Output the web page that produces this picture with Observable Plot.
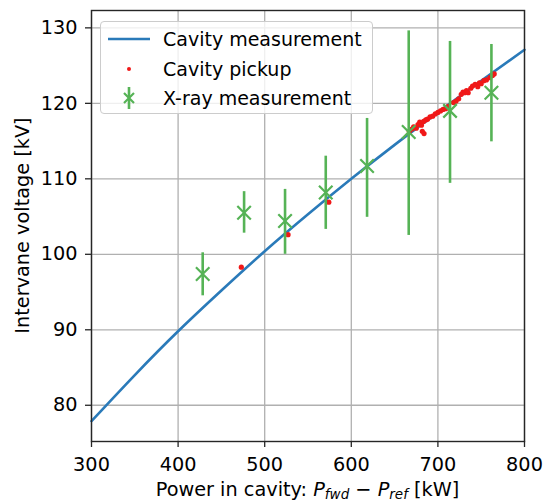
<!DOCTYPE html>
<html>
<head>
<meta charset="utf-8">
<script src="https://cdn.jsdelivr.net/npm/d3@7"></script>
<script src="https://cdn.jsdelivr.net/npm/@observablehq/plot@0.6"></script>
<style>
  html, body { margin: 0; padding: 0; background: #fff; }
  #wrap { position: relative; width: 543px; height: 502px; font-family: "DejaVu Sans", sans-serif; }
  #legend { position: absolute; left: 100px; top: 21px; width: 273px; height: 93px;
    background: rgba(255,255,255,0.8); border: 1px solid #cccccc; border-radius: 4px; box-sizing: border-box; }
  .item { position: absolute; left: 0; height: 20px; display: flex; align-items: center; font-size: 19px; color: #000; white-space: nowrap; }
  .item svg { width: 62px; height: 24px; flex: none; }
</style>
</head>
<body>
<div id="wrap"></div>
<script>
// ---- data ----
const lineP = [300, 350, 400, 450, 500, 550, 600, 650, 700, 750, 800];
const lineV = [77.9, 84.0, 89.8, 95.2, 100.4, 105.3, 110.0, 114.5, 118.8, 123.0, 127.1];

const pickupP = [473, 527, 574, 667, 670, 672, 675, 677, 679, 681, 682, 683.5, 684, 686, 688, 691, 694, 697, 700,
  703, 706, 709, 712, 718, 721, 724, 727, 729, 731, 733, 735, 738, 740, 743, 746, 748, 750, 753, 756, 760, 763, 765];
const pickupV = [98.3, 102.6, 106.9, 116.3, 116.6, 116.9, 116.7, 117.2, 117.5, 117.1, 116.3, 117.6, 116.0, 117.8, 117.9, 118.2, 118.3, 118.6, 118.8,
  119.0, 119.2, 119.3, 119.6, 120.1, 120.3, 120.6, 121.2, 121.5, 121.4, 121.7, 121.4, 122.0, 122.3, 122.5, 122.2, 122.7, 122.6, 123.0, 123.1, 123.4, 123.7, 123.9];

const xrayP  = [428.4, 476.2, 523.5, 570.5, 618.2, 666.3, 714.0, 761.8];
const xrayV  = [97.4, 105.5, 104.4, 108.2, 111.7, 116.2, 119.0, 121.4];
const xrayLo = [94.5, 102.8, 100.0, 103.3, 104.9, 102.5, 109.4, 114.9];
const xrayHi = [100.2, 108.3, 108.6, 113.0, 118.0, 129.6, 128.2, 127.8];

const xTicks = [300, 400, 500, 600, 700, 800];
const yTicks = [80, 90, 100, 110, 120, 130];

const blue = "#2a7ab9", red = "#f01818", green = "#56b356";

// ---- tables for the library ----
const lineData = lineP.map((p, i) => ({p, v: lineV[i]}));
const pickup = pickupP.map((p, i) => ({p, v: pickupV[i]}));
const xray = xrayP.map((p, i) => ({p, v: xrayV[i], lo: xrayLo[i], hi: xrayHi[i]}));

const W = 543, H = 502, mL = 91, mR = 19, mT = 10, mB = 61;

const chart = Plot.plot({
  width: W, height: H,
  marginLeft: mL, marginRight: mR, marginTop: mT, marginBottom: mB,
  style: {fontFamily: "DejaVu Sans, sans-serif", fontSize: "19px", color: "#000", background: "#fff"},
  x: {domain: [300, 800]},
  y: {domain: [75.2, 132.3]},
  marks: [
    Plot.gridX(xTicks, {stroke: "#b0b0b0", strokeOpacity: 1, strokeWidth: 1.3}),
    Plot.gridY(yTicks, {stroke: "#b0b0b0", strokeOpacity: 1, strokeWidth: 1.3}),
    Plot.line(lineData, {x: "p", y: "v", stroke: blue, strokeWidth: 2.6, curve: "natural"}),
    Plot.dot(pickup, {x: "p", y: "v", r: 2.6, fill: red, stroke: "none"}),
    Plot.ruleX(xray, {x: "p", y1: "lo", y2: "hi", stroke: green, strokeWidth: 2.6}),
    Plot.dot(xray, {x: "p", y: "v", symbol: "times", r: 6.2, stroke: green, strokeWidth: 2.2}),
    Plot.frame({stroke: "#262626", strokeWidth: 1.4}),
    Plot.axisX({ticks: xTicks, tickSize: 6, tickPadding: 10, label: null, stroke: "#262626", strokeWidth: 1.3, fontSize: 19.3}),
    Plot.axisY({ticks: yTicks, tickSize: 6, tickPadding: 8, label: null, stroke: "#262626", strokeWidth: 1.3, fontSize: 19.3})
  ]
});

document.getElementById("wrap").appendChild(chart);

// axis labels
const svg = d3.select(chart);
svg.append("text")
  .attr("transform", `translate(22,${(mT + H - mB) / 2}) rotate(-90)`)
  .attr("text-anchor", "middle").attr("dy", "0.35em")
  .attr("font-size", 19.3).attr("fill", "#000")
  .text("Intervane voltage [kV]");

const xl = svg.append("text")
  .attr("x", (mL + W - mR) / 2).attr("y", 495.5)
  .attr("text-anchor", "middle").attr("font-size", 19.3).attr("fill", "#000");
xl.append("tspan").text("Power in cavity: ");
xl.append("tspan").attr("font-style", "italic").text("P");
xl.append("tspan").attr("font-style", "italic").attr("font-size", 13.5).attr("dy", 3).text("fwd");
xl.append("tspan").attr("dy", -3).text(" \u2212 ");
xl.append("tspan").attr("font-style", "italic").text("P");
xl.append("tspan").attr("font-style", "italic").attr("font-size", 13.5).attr("dy", 3).text("ref");
xl.append("tspan").attr("dy", -3).text(" [kW]");

// legend
const legendItems = ["Cavity measurement", "Cavity pickup", "X-ray measurement"];
const legend = document.createElement("div");
legend.id = "legend";
const sw = [
  `<line x1="7" x2="49" y1="12" y2="12" stroke="${blue}" stroke-width="2.6"/>`,
  `<circle cx="28" cy="12" r="2" fill="${red}"/>`,
  `<line x1="28" x2="28" y1="1" y2="23" stroke="${green}" stroke-width="2.6"/><path d="M23,7L33,17M33,7L23,17" stroke="${green}" stroke-width="2.2"/>`
];
legendItems.forEach((t, i) => {
  const d = document.createElement("div");
  d.className = "item";
  d.style.top = (7 + i * 29.5) + "px";
  d.innerHTML = `<svg viewBox="0 0 62 24">${sw[i]}</svg><span>${t}</span>`;
  legend.appendChild(d);
});
document.getElementById("wrap").appendChild(legend);
</script>
</body>
</html>
